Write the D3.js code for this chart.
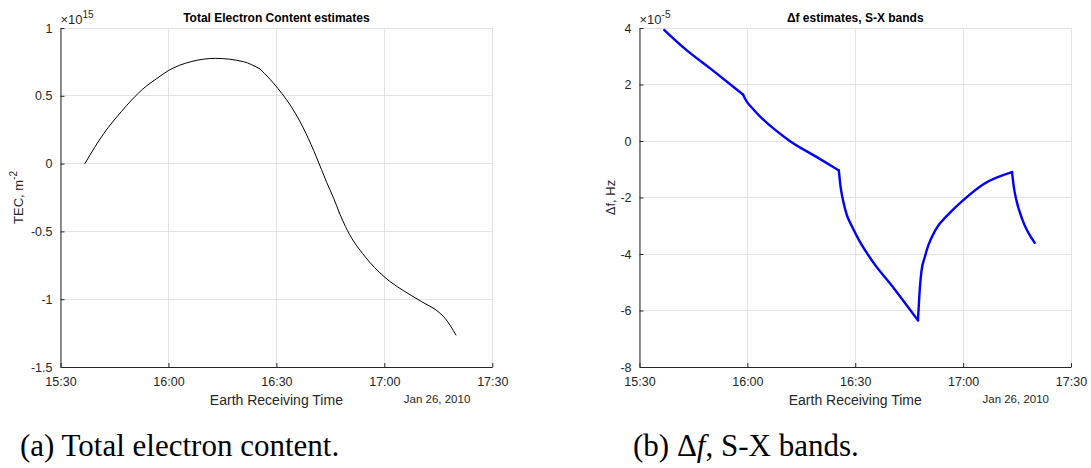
<!DOCTYPE html>
<html>
<head>
<meta charset="utf-8">
<script src="https://cdn.jsdelivr.net/npm/d3@7"></script>
<style>
  html, body { margin: 0; padding: 0; background: #fff; }
  svg { display: block; }
</style>
</head>
<body>
<svg id="fig" width="1091" height="468"></svg>
<script>
// ---- data ---------------------------------------------------------------
const day = "2010-01-26";

// Times where the estimates change regime (slope breaks)
const breakTimes = ["15:58:47", "16:25:26", "16:47:27", "17:13:36"];

// Total electron content, m^-2
const tecTimes = ["15:36:46","15:42:05","15:46:54","15:49:48","15:53:41","15:56:36",
  "15:59:59","16:06:18","16:13:02","16:20:48","16:25:26","16:30:24","16:35:16",
  "16:38:12","16:41:04","16:44:00","16:45:54","16:47:27","16:49:46","16:54:36",
  "16:59:54","17:07:12","17:13:36","17:16:51","17:19:54"];
const tecValues = [0, 0.224e15, 0.383e15, 0.47e15, 0.568e15, 0.624e15,
  0.686e15, 0.752e15, 0.776e15, 0.752e15, 0.698e15, 0.555e15, 0.371e15,
  0.224e15, 0.052e15, -0.14e15, -0.255e15, -0.36e15, -0.495e15, -0.685e15,
  -0.833e15, -0.968e15, -1.066e15, -1.14e15, -1.264e15];

// Frequency offset between S and X bands, Hz
const dfTimes = ["15:36:53","15:42:30","15:50:16","15:58:47","15:59:28","16:01:53",
  "16:11:35","16:19:20","16:25:26","16:25:54","16:26:36","16:27:36","16:29:00",
  "16:31:00","16:34:51","16:40:40","16:47:27","16:47:56","16:48:24","16:49:23",
  "16:50:22","16:52:18","16:56:10","17:00:03","17:05:52","17:13:36","17:14:06",
  "17:14:48","17:16:30","17:19:54"];
const dfValues = [3.93e-5, 3.28e-5, 2.51e-5, 1.645e-5, 1.47e-5, 1.09e-5,
  0.02e-5, -0.57e-5, -1.04e-5, -1.6e-5, -2.1e-5, -2.6e-5, -3.0e-5,
  -3.5e-5, -4.27e-5, -5.2e-5, -6.35e-5, -5.27e-5, -4.62e-5, -4.09e-5,
  -3.68e-5, -3.15e-5, -2.56e-5, -2.09e-5, -1.51e-5, -1.10e-5, -1.63e-5,
  -2.09e-5, -2.79e-5, -3.6e-5];

// Axis ticks
const timeTicks = ["15:30","16:00","16:30","17:00","17:30"];
const tecTicks = [-1.5e15, -1e15, -0.5e15, 0, 0.5e15, 1e15];
const tecTickLabels = ["-1.5","-1","-0.5","0","0.5","1"];
const dfTicks = [-8e-5, -6e-5, -4e-5, -2e-5, 0, 2e-5, 4e-5];
const dfTickLabels = ["-8","-6","-4","-2","0","2","4"];

// ---- drawing ------------------------------------------------------------
const parseTime = d3.timeParse("%Y-%m-%d %H:%M:%S");
const parseTick = d3.timeParse("%Y-%m-%d %H:%M");
const svg = d3.select("#fig");
const FONT = "'Liberation Sans', Arial, Helvetica, sans-serif";
const AX = "#262626";
const GRID = "#e3e3e3";
const breaks = breakTimes.map(t => +parseTime(day + " " + t));

// split a series into pieces at the break times (break points shared)
function splitAtBreaks(pts) {
  const pieces = [[]];
  pts.forEach(p => {
    pieces[pieces.length - 1].push(p);
    if (breaks.includes(+p[0])) pieces.push([p]);
  });
  return pieces.filter(s => s.length > 1);
}

function panel(opt) {
  const g = svg.append("g");
  const x = d3.scaleTime()
    .domain([parseTick(day + " " + timeTicks[0]), parseTick(day + " " + timeTicks[timeTicks.length - 1])])
    .range([opt.left, opt.right]);
  const y = d3.scaleLinear().domain(opt.yDomain).range([opt.bottom, opt.top]);
  const xTickDates = timeTicks.map(t => parseTick(day + " " + t));

  // grid
  g.append("g").selectAll("line").data(xTickDates).join("line")
    .attr("x1", d => x(d)).attr("x2", d => x(d))
    .attr("y1", opt.top).attr("y2", opt.bottom)
    .attr("stroke", GRID).attr("stroke-width", 1).attr("shape-rendering", "crispEdges");
  g.append("g").selectAll("line").data(opt.yTicks).join("line")
    .attr("x1", opt.left).attr("x2", opt.right)
    .attr("y1", d => y(d)).attr("y2", d => y(d))
    .attr("stroke", GRID).attr("stroke-width", 1).attr("shape-rendering", "crispEdges");

  // data line, one smooth piece between each pair of breaks
  const pts = opt.times.map((t, i) => [parseTime(day + " " + t), opt.values[i]]);
  const line = d3.line().x(d => x(d[0])).y(d => y(d[1])).curve(d3.curveMonotoneX);
  g.append("g").selectAll("path").data(splitAtBreaks(pts)).join("path")
    .attr("fill", "none")
    .attr("stroke", opt.color)
    .attr("stroke-width", opt.width)
    .attr("stroke-linejoin", "round")
    .attr("stroke-linecap", "round")
    .attr("d", line);

  // axes (ticks point inward)
  const xAxis = d3.axisBottom(x).tickValues(xTickDates)
    .tickFormat((d, i) => timeTicks[i]).tickSizeInner(-4).tickSizeOuter(0).tickPadding(10);
  const gx = g.append("g").attr("transform", `translate(0,${opt.bottom})`).call(xAxis);
  const yAxis = d3.axisLeft(y).tickValues(opt.yTicks)
    .tickFormat((d, i) => opt.yTickLabels[i]).tickSizeInner(-4).tickSizeOuter(0).tickPadding(8);
  const gy = g.append("g").attr("transform", `translate(${opt.left},0)`).call(yAxis);
  [gx, gy].forEach(a => {
    a.select(".domain").attr("stroke", AX).attr("stroke-width", 1);
    a.selectAll(".tick line").attr("stroke", AX);
    a.selectAll(".tick text").attr("fill", AX).style("font-family", FONT).style("font-size", "12.5px");
  });
  gx.selectAll(".tick text").attr("dy", "0.71em");

  // exponent
  const ex = g.append("text").attr("x", opt.left).attr("y", opt.top - 4)
    .attr("fill", AX).style("font-family", FONT).style("font-size", "13px");
  ex.append("tspan").text("\u00d710");
  ex.append("tspan").attr("dy", -6).style("font-size", "10px").text(opt.exponent);

  // title
  g.append("text").attr("x", (opt.left + opt.right) / 2).attr("y", opt.top - 6)
    .attr("text-anchor", "middle").attr("fill", "#000")
    .style("font-family", FONT).style("font-size", "12px").style("font-weight", "bold")
    .text(opt.title);

  // x label + date
  g.append("text").attr("x", (opt.left + opt.right) / 2).attr("y", opt.bottom + 38)
    .attr("text-anchor", "middle").attr("fill", AX)
    .style("font-family", FONT).style("font-size", "14px")
    .text("Earth Receiving Time");
  g.append("text").attr("x", opt.right - 22).attr("y", opt.bottom + 36)
    .attr("text-anchor", "end").attr("fill", AX)
    .style("font-family", FONT).style("font-size", "11.5px")
    .text("Jan 26, 2010");

  // y label
  const yl = g.append("text")
    .attr("transform", `translate(${opt.ylabelX},${(opt.top + opt.bottom) / 2}) rotate(-90)`)
    .attr("text-anchor", "middle").attr("fill", AX)
    .style("font-family", FONT).style("font-size", "13px");
  opt.ylabel(yl);

  // caption
  const cap = svg.append("text").attr("x", opt.capX).attr("y", 456)
    .attr("fill", "#000")
    .style("font-family", "'Liberation Serif', 'DejaVu Serif', serif").style("font-size", "31px");
  opt.caption(cap);
}

panel({
  left: 60.5, right: 492.3, top: 28, bottom: 367,
  yDomain: [-1.5e15, 1e15], yTicks: tecTicks, yTickLabels: tecTickLabels,
  times: tecTimes, values: tecValues, color: "#000", width: 1,
  exponent: "15", title: "Total Electron Content estimates",
  ylabelX: 23,
  ylabel: t => { t.append("tspan").text("TEC, m"); t.append("tspan").attr("dy", -6).style("font-size", "10px").text("-2"); },
  capX: 20,
  caption: t => t.text("(a) Total electron content.")
});

panel({
  left: 639.5, right: 1071, top: 28, bottom: 367,
  yDomain: [-8e-5, 4e-5], yTicks: dfTicks, yTickLabels: dfTickLabels,
  times: dfTimes, values: dfValues, color: "#0000ff", width: 2.4,
  exponent: "-5", title: "\u0394f estimates, S-X bands",
  ylabelX: 615,
  ylabel: t => t.text("\u0394f, Hz"),
  capX: 633,
  caption: t => {
    t.append("tspan").text("(b) \u0394");
    t.append("tspan").style("font-style", "italic").text("f");
    t.append("tspan").text(", S-X bands.");
  }
});
</script>
</body>
</html>
